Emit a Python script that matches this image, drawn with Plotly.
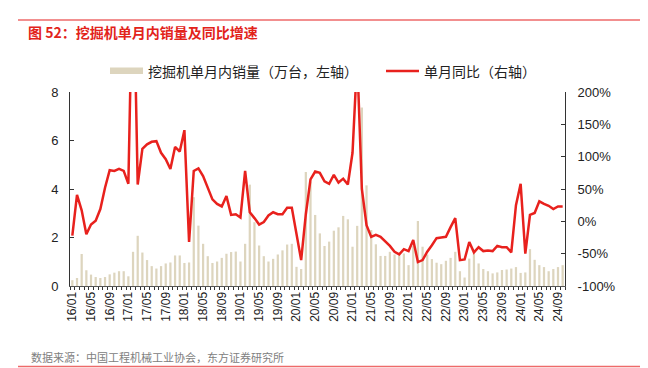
import plotly.graph_objects as go

# ---------------- data ----------------
years = list(range(2016, 2025))
months = [f"{y % 100:02d}/{m:02d}" for y in years for m in range(1, 13)]
months = months[:106]  # 2016/01 .. 2024/10

sales = [  # 万台
    0.24, 0.33, 1.32, 0.65, 0.47, 0.37, 0.33, 0.37, 0.48, 0.55, 0.61, 0.61,
    0.40, 1.41, 2.07, 1.38, 1.07, 0.82, 0.72, 0.82, 0.93, 0.97, 1.26, 1.26,
    0.95, 0.97, 3.66, 2.49, 1.74, 1.23, 0.95, 1.01, 1.16, 1.33, 1.40, 1.42,
    1.01, 1.74, 4.18, 2.63, 1.67, 1.23, 1.01, 1.12, 1.30, 1.47, 1.71, 1.74,
    0.79, 0.70, 4.70, 4.30, 2.93, 2.17, 1.65, 1.83, 2.28, 2.42, 2.89, 2.75,
    1.62, 2.48, 7.36, 4.15, 2.31, 1.72, 1.24, 1.24, 1.41, 1.30, 1.27, 1.34,
    0.86, 1.66, 2.68, 1.62, 1.30, 1.11, 0.96, 0.90, 1.04, 1.16, 1.41, 0.61,
    0.35, 1.13, 1.34, 0.93, 0.70, 0.61, 0.52, 0.56, 0.66, 0.68, 0.72, 0.78,
    0.54, 0.56, 1.52, 1.08, 0.86, 0.78, 0.61, 0.70, 0.78, 0.86,
]

yoy = [  # %
    -22, 41, 17, -20, -5, 1, 19, 52, 79, 78, 81, 78,
    58, 420, 57, 112, 119, 123, 124, 106, 96, 81, 115, 108,
    141, -32, 78, 82, 70, 53, 34, 27, 23, 39, 10, 11,
    6, 78, 14, 5, -5, -1, 9, 14, 11, 11, 21, 21,
    -21, -60, 11, 65, 77, 75, 62, 58, 72, 60, 66, 57,
    106, 253, 50, -6, -24, -21, -24, -31, -38, -47, -51, -43,
    -46, -29, -63, -60, -47, -37, -26, -25, -24, -9, 5, -60,
    -59, -32, -48, -40, -46, -45, -46, -38, -40, -40, -48, 25,
    58, -50, 10, 13, 31, 27, 24, 19, 23, 23,
]

tick_text = [m if m[-2:] in ("01", "05", "09") else "" for m in months]
left_ticks = [0, 2, 4, 6, 8]
right_ticks = [-100, -50, 0, 50, 100, 150, 200]
right_text = [f"{v}%" for v in right_ticks]

bar_name = "挖掘机单月内销量（万台，左轴）"
line_name = "单月同比（右轴）"
title_text = "图 52：挖掘机单月内销量及同比增速"
source_text = "数据来源：中国工程机械工业协会，东方证券研究所"

# ---------------- style ----------------
W, H = 648, 368
L, R, T, B = 70, 565, 92, 285.7
BAR_COLOR = "#DDD5BE"
LINE_COLOR = "#E8211D"
RED = "#E2231A"
FONT = "Liberation Sans, Arial, Noto Sans CJK SC, sans-serif"
CJK = "Noto Sans CJK SC, Liberation Sans, sans-serif"


def xp(px):
    return (px - L) / (R - L)


def yp(py):
    return (B - py) / (B - T)


fig = go.Figure()
fig.add_trace(go.Bar(x=months, y=sales, name=bar_name, marker_color=BAR_COLOR,
                     marker_line_width=0, yaxis="y", showlegend=False))
fig.add_trace(go.Scatter(x=months, y=yoy, name=line_name, mode="lines",
                         line=dict(color=LINE_COLOR, width=2.5), yaxis="y2",
                         showlegend=False))

fig.update_layout(
    width=W, height=H,
    margin=dict(l=L, r=W - R, t=T, b=H - B),
    paper_bgcolor="white", plot_bgcolor="white",
    bargap=0.52,
    font=dict(family=FONT, size=13, color="#222222"),
    xaxis=dict(type="category", tickvals=months, ticktext=tick_text,
               tickangle=-90, tickson="boundaries", ticks="outside", ticklen=3,
               tickcolor="#333333", showline=True, linecolor="#555555", linewidth=1,
               showgrid=False, tickfont=dict(size=12, color="#222222"),
               range=[-0.5, len(months) - 0.5], automargin=False),
    yaxis=dict(range=[0, 8], tickvals=left_ticks, showgrid=False, zeroline=False,
               showline=True, linecolor="#333333", linewidth=1,
               ticks="inside", ticklen=4, tickcolor="#333333",
               ticklabelstandoff=8, tickfont=dict(size=13), automargin=False),
    yaxis2=dict(range=[-100, 200], tickvals=right_ticks, ticktext=right_text,
                overlaying="y", side="right", showgrid=False, zeroline=False,
                showline=True, linecolor="#333333", linewidth=1,
                ticks="inside", ticklen=4, tickcolor="#333333",
                ticklabelstandoff=9, tickfont=dict(size=13), automargin=False),
)

shapes = [
    dict(type="line", xref="paper", yref="paper", x0=xp(18), x1=xp(640),
         y0=yp(20), y1=yp(20), line=dict(color="#EE6A6A", width=1.5)),
    dict(type="line", xref="paper", yref="paper", x0=xp(18), x1=xp(640),
         y0=yp(366), y1=yp(366), line=dict(color="#EE6A6A", width=1.5)),
    dict(type="rect", xref="paper", yref="paper", x0=xp(110), x1=xp(143),
         y0=yp(74), y1=yp(67.5), fillcolor=BAR_COLOR, line=dict(width=0)),
    dict(type="line", xref="paper", yref="paper", x0=xp(386), x1=xp(419),
         y0=yp(71), y1=yp(71), line=dict(color=LINE_COLOR, width=2.6)),
]
annotations = [
    dict(text=title_text, xref="paper", yref="paper", x=xp(26), y=yp(32),
         xanchor="left", yanchor="middle", showarrow=False,
         font=dict(family=CJK, size=14, color=RED, weight="bold")),
    dict(text=bar_name, xref="paper", yref="paper", x=xp(146), y=yp(71),
         xanchor="left", yanchor="middle", showarrow=False,
         font=dict(family=CJK, size=14, color="#222222")),
    dict(text=line_name, xref="paper", yref="paper", x=xp(422), y=yp(71),
         xanchor="left", yanchor="middle", showarrow=False,
         font=dict(family=CJK, size=14, color="#222222")),
    dict(text=source_text, xref="paper", yref="paper", x=xp(29), y=yp(357),
         xanchor="left", yanchor="middle", showarrow=False,
         font=dict(family=CJK, size=11, color="#808080")),
]
fig.update_layout(shapes=shapes, annotations=annotations)

fig.write_html("out.html", config={"displayModeBar": False},
               post_script="document.body.style.margin='0';document.body.style.overflow='hidden';")
